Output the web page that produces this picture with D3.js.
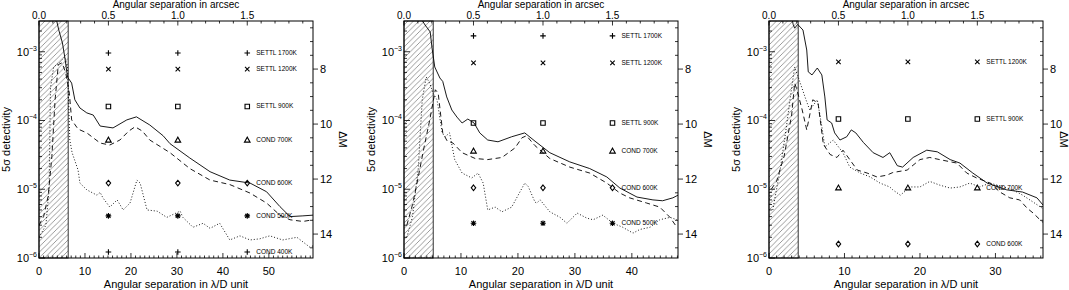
<!DOCTYPE html>
<html>
<head>
<meta charset="utf-8">
<script src="https://cdn.jsdelivr.net/npm/d3@7/dist/d3.min.js"></script>
<style>
body { margin: 0; background: #fff; }
svg text { font-family: "Liberation Sans", Arial, sans-serif; fill: #000; }
</style>
</head>
<body>
<div id="plot"></div>
<script>
// ---- data (x in lambda/D, y = 5 sigma detectivity) ----
const lamdPerArcsec = [30.2, 24.4, 18.4];
const xMax = [59.6, 48.1, 36.3];
const xTicks = [[0, 10, 20, 30, 40, 50], [0, 10, 20, 30, 40], [0, 10, 20, 30]];
const arcsecTicks = [0.0, 0.5, 1.0, 1.5];
const hatchArcsec = 0.21;
const yRange = [1e-6, 2.8e-3];
const yTicks = [1e-6, 1e-5, 1e-4, 1e-3];
const dmTicks = [8, 10, 12, 14];
const markerArcsec = [0.5, 1.0, 1.5];

const modelNames1 = ["SETTL 1700K", "SETTL 1200K", "SETTL 900K", "COND 700K", "COND 600K", "COND 500K", "COND 400K"];
const modelSyms1 = ["plus", "cross", "square", "triangle", "diamond", "star", "plus"];
const modelVals1 = [9.6e-4, 5.6e-4, 1.6e-4, 5.2e-5, 1.23e-5, 4.1e-6, 1.22e-6];

const modelNames2 = ["SETTL 1700K", "SETTL 1200K", "SETTL 900K", "COND 700K", "COND 600K", "COND 500K"];
const modelSyms2 = ["plus", "cross", "square", "triangle", "diamond", "star"];
const modelVals2 = [1.7e-3, 6.9e-4, 9.2e-5, 3.6e-5, 1.05e-5, 3.2e-6];

const modelNames3 = ["SETTL 1200K", "SETTL 900K", "COND 700K", "COND 600K"];
const modelSyms3 = ["cross", "square", "triangle", "diamond"];
const modelVals3 = [7.1e-4, 1.05e-4, 1.05e-5, 1.6e-6];

const solid1 = [[3.0,5e-3],[4.3,2.07e-3],[5.1,1.34e-3],[5.65,8.0e-4],[6.2,4.3e-4],[7.1,3.5e-4],[7.8,2.0e-4],[8.9,1.52e-4],[10.4,1.29e-4],[11.8,1.2e-4],[13.3,8.3e-5],[16.1,7.8e-5],[19.1,1.02e-4],[21.2,1.13e-4],[24.1,8.6e-5],[27.0,6.0e-5],[28.5,4.6e-5],[32.8,2.85e-5],[37.2,1.8e-5],[41.5,1.36e-5],[45.9,1.23e-5],[49.5,9.2e-6],[52.4,5.6e-6],[54.6,4.0e-6],[57.4,4.1e-6],[59.6,4.2e-6]];
const dashed1 = [[0,3e-6],[1,4e-6],[2,8e-6],[2.8,3e-5],[3.5,2e-4],[4.2,6.5e-4],[5.0,6.9e-4],[5.8,5e-4],[6.6,2.5e-4],[7.1,1.02e-4],[8.5,7.5e-5],[10.4,6.6e-5],[13.3,4.7e-5],[15.4,4.4e-5],[17.6,5.2e-5],[19.5,7.0e-5],[20.9,8.1e-5],[22.5,7.0e-5],[24.1,5.2e-5],[28.5,3.4e-5],[32.8,2.0e-5],[37.2,1.36e-5],[41.5,1.17e-5],[45.9,8.8e-6],[49.5,6.3e-6],[52.4,4.2e-6],[54.6,3.6e-6],[57.4,3.4e-6],[59.6,3.6e-6]];
const dotted1 = [[0,2e-6],[1.5,3e-6],[2.2,1e-5],[2.5,3e-4],[3.2,6e-4],[4.5,7e-4],[5.6,8.4e-4],[6.2,6e-4],[6.5,1.5e-4],[6.7,5.2e-5],[7.2,3.4e-5],[8.5,1.9e-5],[8.9,1.23e-5],[10.4,9.8e-6],[12.6,8.2e-6],[13.3,9.0e-6],[13.9,7.5e-6],[15.4,5.5e-6],[17.0,7.0e-6],[18.3,5.0e-6],[19.8,6.3e-6],[21.3,1.36e-5],[22.0,1.23e-5],[23.5,5.0e-6],[25.7,4.8e-6],[27.8,3.9e-6],[30.7,4.8e-6],[31.3,3.9e-6],[33.5,2.8e-6],[35.7,3.2e-6],[37.2,2.7e-6],[39.3,3.2e-6],[41.5,1.83e-6],[43.7,2.1e-6],[45.9,1.83e-6],[48.0,1.9e-6],[50.2,2.1e-6],[53.0,1.83e-6],[56.1,2.0e-6],[58.9,1.44e-6],[59.6,1.5e-6]];

const solid2 = [[2.5,3.5e-3],[3.7,2.45e-3],[4.6,1.94e-3],[4.9,1.17e-3],[5.4,6.0e-4],[6.3,4.15e-4],[6.8,3.7e-4],[7.5,2.2e-4],[8.4,1.42e-4],[9.3,1.12e-4],[10.2,9.2e-5],[11.2,1.05e-4],[12.3,9.2e-5],[13.3,6.6e-5],[14.7,5.2e-5],[16.5,4.9e-5],[18.9,5.8e-5],[21.2,6.6e-5],[23.0,5.0e-5],[25.6,3.4e-5],[29.1,2.5e-5],[32.6,2.0e-5],[35.6,1.51e-5],[37.9,1.04e-5],[40.9,7.7e-6],[43.7,7.0e-6],[45.4,6.8e-6],[47.2,7.5e-6],[48.1,8.2e-6]];
const dashed2 = [[0.5,3e-6],[1.5,6e-6],[2.5,1.5e-5],[3.5,4e-5],[4.5,1e-4],[5.5,2.8e-4],[6.0,2.5e-4],[6.8,6.6e-5],[7.6,5e-5],[8.6,4.7e-5],[10.2,3.4e-5],[12.5,2.8e-5],[14.7,2.7e-5],[17.2,2.9e-5],[19.5,4.0e-5],[20.7,5.6e-5],[21.5,6.0e-5],[23.0,4.3e-5],[25.6,2.8e-5],[29.1,2.1e-5],[32.6,1.72e-5],[35.6,1.23e-5],[37.9,8.8e-6],[39.6,7.5e-6],[42.6,6.3e-6],[44.9,5.5e-6],[46.7,3.9e-6],[47.9,2.8e-6]];
const dotted2 = [[0.5,2e-6],[1.5,4e-6],[2.5,2e-5],[3.2,2e-4],[3.9,4.3e-4],[4.5,3.5e-4],[5.1,2.5e-4],[5.8,2.0e-4],[6.7,6.6e-5],[7.2,5.8e-5],[8.0,6.6e-5],[8.9,2.7e-5],[10.2,1.72e-5],[11.9,1.46e-5],[13.0,1.72e-5],[13.9,1.23e-5],[14.7,5.0e-6],[16.0,5.5e-6],[17.2,4.7e-6],[18.9,5.5e-6],[21.2,1.23e-5],[21.8,1.1e-5],[23.0,6.5e-6],[23.3,6.3e-6],[23.9,7.0e-6],[25.6,4.7e-6],[27.4,3.9e-6],[28.6,3.2e-6],[30.4,4.5e-6],[32.1,3.8e-6],[33.2,3.6e-6],[34.9,4.2e-6],[36.7,3.2e-6],[38.4,2.8e-6],[40.2,2.3e-6],[41.4,2.6e-6],[43.2,2.8e-6],[44.9,3.6e-6],[46.7,3.9e-6],[47.9,3.6e-6]];

const solid3 = [[3.0,3.2e-3],[3.2,2.5e-3],[3.4,2.2e-3],[3.8,2.5e-3],[4.5,2.07e-3],[5.0,1.06e-3],[5.2,5.1e-4],[5.7,4.6e-4],[6.4,5.8e-4],[7.0,4.6e-4],[7.4,2.2e-4],[7.7,1.02e-4],[8.3,9.2e-5],[8.7,6.6e-5],[9.4,5.2e-5],[10.3,5.8e-5],[10.9,7.3e-5],[11.5,6.6e-5],[12.5,4.8e-5],[13.8,3.4e-5],[15.1,2.9e-5],[16.0,3.4e-5],[17.0,2.2e-5],[17.7,2.1e-5],[19.1,2.9e-5],[20.9,3.7e-5],[22.3,3.5e-5],[24.0,2.7e-5],[25.3,2.4e-5],[27.0,1.72e-5],[28.9,1.23e-5],[31.5,9.8e-6],[33.6,9.1e-6],[35.5,7.5e-6],[36.3,5.9e-6]];
const dashed3 = [[0.3,1e-5],[1,1.3e-5],[1.5,2e-5],[2.0,3e-5],[2.5,6e-5],[3.0,1.2e-4],[3.4,3.5e-4],[3.7,2.8e-4],[4.4,1.42e-4],[5.0,7.3e-5],[5.8,2.0e-4],[6.5,1.8e-4],[7.2,4.5e-5],[8.1,3.2e-5],[9.0,2.9e-5],[9.8,3.7e-5],[10.7,2.7e-5],[11.7,1.9e-5],[13.0,1.72e-5],[14.3,1.51e-5],[15.6,1.6e-5],[16.4,1.75e-5],[18.3,1.9e-5],[20.0,2.7e-5],[21.3,2.9e-5],[22.6,2.7e-5],[24.9,2.4e-5],[26.2,1.72e-5],[27.5,1.46e-5],[29.3,1.23e-5],[30.6,9.1e-6],[31.9,7.5e-6],[33.2,7.0e-6],[34.2,5.3e-6],[35.0,4.5e-6],[35.9,3.6e-6],[36.3,3.3e-6]];
const dotted3 = [[0.5,5e-6],[1.5,2e-5],[2.3,8e-5],[2.9,2.5e-4],[3.4,6.0e-4],[3.8,4.5e-4],[4.9,2.0e-4],[5.4,1.42e-4],[6.4,2.0e-4],[7.0,8.2e-5],[7.4,4.1e-5],[8.5,5.2e-5],[9.8,3.4e-5],[10.7,2.1e-5],[12.1,1.72e-5],[13.4,1.51e-5],[14.7,1.23e-5],[16.0,1.08e-5],[16.4,9.8e-6],[17.4,8.2e-6],[18.7,1.08e-5],[20.0,1.08e-5],[21.3,1.3e-5],[22.6,1.15e-5],[24.0,1.04e-5],[25.3,1.08e-5],[26.6,1.23e-5],[27.9,1.08e-5],[29.3,1.23e-5],[31.0,1.08e-5],[32.3,9.8e-6],[33.6,8.2e-6],[35.0,6.5e-6],[36.2,5.3e-6]];

// ---- layout ----
const dim = {
    width: 1069, height: 290,
    panelLeft: [39, 404, 769],
    plotWidth: 274,
    top: 21, bottom: 258
};

const svg = d3.select("#plot").append("svg")
    .attr("width", dim.width)
    .attr("height", dim.height);

// hatch pattern for the inner (coronagraph) area
svg.append("defs").append("pattern")
    .attr("id", "hatch")
    .attr("patternUnits", "userSpaceOnUse")
    .attr("width", 5.5).attr("height", 5.5)
    .append("path")
    .attr("d", "M0,5.5 L5.5,0 M-1,1 L1,-1 M4.5,6.5 L6.5,4.5")
    .attr("stroke", "#333").attr("stroke-width", 0.5);

const panels = [
    {solid: solid1, dashed: dashed1, dotted: dotted1, names: modelNames1, syms: modelSyms1, vals: modelVals1},
    {solid: solid2, dashed: dashed2, dotted: dotted2, names: modelNames2, syms: modelSyms2, vals: modelVals2},
    {solid: solid3, dashed: dashed3, dotted: dotted3, names: modelNames3, syms: modelSyms3, vals: modelVals3}
];

function symbolPath(type, s) {
    if (type == "plus") return `M${-s},0H${s}M0,${-s}V${s}`;
    if (type == "cross") return `M${-s*0.8},${-s*0.8}L${s*0.8},${s*0.8}M${-s*0.8},${s*0.8}L${s*0.8},${-s*0.8}`;
    if (type == "square") return `M${-s*0.8},${-s*0.8}H${s*0.8}V${s*0.8}H${-s*0.8}Z`;
    if (type == "triangle") return `M${-s},${s*0.75}H${s}L0,${-s}Z`;
    if (type == "diamond") return `M0,${-s}L${s*0.8},0L0,${s}L${-s*0.8},0Z`;
    // asterisk
    return `M${-s},0H${s}M0,${-s}V${s}M${-s*0.75},${-s*0.75}L${s*0.75},${s*0.75}M${-s*0.75},${s*0.75}L${s*0.75},${-s*0.75}`;
}

function drawPanel(i) {
    const p = panels[i];
    const left = dim.panelLeft[i];
    const right = left + dim.plotWidth;
    const k = lamdPerArcsec[i];

    const x = d3.scaleLinear().domain([0, xMax[i]]).range([left, right]);
    const xa = d3.scaleLinear().domain([0, xMax[i] / k]).range([left, right]);
    const y = d3.scaleLog().domain(yRange).range([dim.bottom, dim.top]);
    // delta mag axis: dM = -2.5 log10(contrast) - 0.13
    const dm = d3.scaleLinear()
        .domain(yRange.map(v => -2.5 * Math.log10(v) - 0.13))
        .range([dim.bottom, dim.top]);

    const g = svg.append("g");

    const clipId = "clip" + i;
    svg.select("defs").append("clipPath").attr("id", clipId)
        .append("rect")
        .attr("x", left).attr("y", dim.top)
        .attr("width", dim.plotWidth).attr("height", dim.bottom - dim.top);

    // hatched region
    g.append("rect")
        .attr("x", x(0)).attr("y", dim.top)
        .attr("width", xa(hatchArcsec) - x(0))
        .attr("height", dim.bottom - dim.top)
        .attr("fill", "url(#hatch)")
        .attr("stroke", "#000").attr("stroke-width", 0.8);

    // curves
    const line = d3.line().x(d => x(d[0])).y(d => y(d[1]));
    const curves = g.append("g").attr("clip-path", `url(#${clipId})`).attr("fill", "none");
    curves.append("path").attr("d", line(p.dotted))
        .attr("stroke", "#000").attr("stroke-width", 0.9).attr("stroke-dasharray", "1,2");
    curves.append("path").attr("d", line(p.dashed))
        .attr("stroke", "#000").attr("stroke-width", 0.9).attr("stroke-dasharray", "5,3.5");
    curves.append("path").attr("d", line(p.solid))
        .attr("stroke", "#000").attr("stroke-width", 0.9);

    // model markers and labels
    p.vals.forEach((v, j) => {
        markerArcsec.forEach(a => {
            g.append("path")
                .attr("transform", `translate(${xa(a)},${y(v)})`)
                .attr("d", symbolPath(p.syms[j], 2.8))
                .attr("fill", "none").attr("stroke", "#000").attr("stroke-width", 1.1);
        });
        g.append("text")
            .attr("x", xa(markerArcsec[2]) + 9)
            .attr("y", y(v) + 2)
            .attr("font-size", "6.5px")
            .text(p.names[j]);
    });

    // frame
    g.append("rect")
        .attr("x", left).attr("y", dim.top)
        .attr("width", dim.plotWidth).attr("height", dim.bottom - dim.top)
        .attr("fill", "none").attr("stroke", "#000").attr("stroke-width", 1);

    const ticks = g.append("g").attr("stroke", "#000").attr("stroke-width", 0.8);

    // bottom axis (lambda/D), ticks pointing in
    d3.range(0, Math.floor(xMax[i]) + 1).forEach(t => {
        const major = t % 10 == 0;
        ticks.append("line").attr("x1", x(t)).attr("x2", x(t))
            .attr("y1", dim.bottom).attr("y2", dim.bottom - (major ? 5 : 2.5));
    });
    xTicks[i].forEach(t => {
        g.append("text").attr("x", x(t)).attr("y", 275)
            .attr("text-anchor", "middle").attr("font-size", "11px").text(t);
    });
    g.append("text").attr("x", (left + right) / 2).attr("y", 288)
        .attr("text-anchor", "middle").attr("font-size", "11px")
        .text("Angular separation in \u03bb/D unit");

    // top axis (arcsec)
    d3.range(0, 20).map(t => t / 10).filter(t => xa(t) <= right).forEach((t, n) => {
        const major = n % 5 == 0;
        ticks.append("line").attr("x1", xa(t)).attr("x2", xa(t))
            .attr("y1", dim.top).attr("y2", dim.top + (major ? 4.5 : 2.5));
    });
    arcsecTicks.forEach(t => {
        g.append("text").attr("x", xa(t)).attr("y", 19)
            .attr("text-anchor", "middle").attr("font-size", "10px").text(t.toFixed(1));
    });
    g.append("text").attr("x", (left + right) / 2).attr("y", 8)
        .attr("text-anchor", "middle").attr("font-size", "10px")
        .text("Angular separation in arcsec");

    // left log axis
    yTicks.forEach(t => {
        d3.range(1, 10).forEach(m => {
            const v = t * m;
            if (v > yRange[1]) return;
            const major = m == 1;
            ticks.append("line").attr("x1", left).attr("x2", left + (major ? 6 : 3))
                .attr("y1", y(v)).attr("y2", y(v));
        });
        const lab = g.append("text").attr("x", left - 2).attr("y", y(t) + 4)
            .attr("text-anchor", "end").attr("font-size", "11px");
        lab.append("tspan").text("10");
        lab.append("tspan").attr("dy", -5).attr("font-size", "7px").text("\u2212" + (-Math.log10(t)));
    });
    g.append("text")
        .attr("transform", `translate(${left - 29},${(dim.top + dim.bottom) / 2}) rotate(-90)`)
        .attr("text-anchor", "middle").attr("font-size", "11px")
        .text("5\u03c3 detectivity");

    // right delta-mag axis
    d3.range(13, 30).map(t => t / 2).filter(t => dm(t) >= dim.top && dm(t) <= dim.bottom).forEach(t => {
        const major = t % 2 == 0;
        ticks.append("line")
            .attr("x1", major ? right + 5 : right - 3).attr("x2", right)
            .attr("y1", dm(t)).attr("y2", dm(t));
    });
    dmTicks.forEach(t => {
        g.append("text").attr("x", right + 7).attr("y", dm(t) + 4)
            .attr("font-size", "11px").text(t);
    });
    g.append("text")
        .attr("transform", `translate(${Math.min(right + 26, 1060)},${(dim.top + dim.bottom) / 2}) rotate(90)`)
        .attr("text-anchor", "middle").attr("font-size", "11px")
        .text("\u0394M");
}

for (let i = 0; i < 3; i++) drawPanel(i);
</script>
</body>
</html>
